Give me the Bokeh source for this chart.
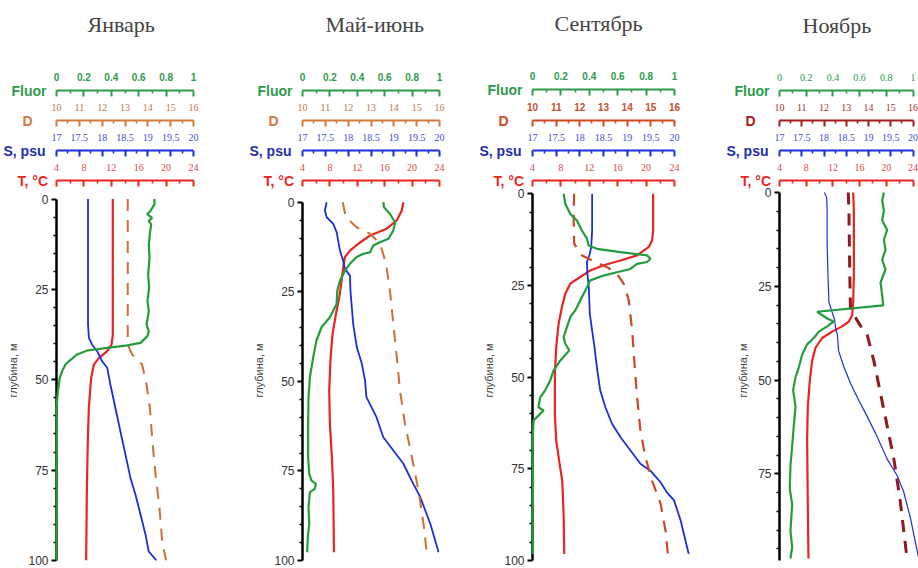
from bokeh.plotting import figure
from bokeh.models import Range1d, LinearAxis, FixedTicker, CustomJSTickFormatter, Title
from bokeh.layouts import row
from bokeh.embed import file_html
from bokeh.resources import INLINE

# ---------------- labels / ticks ----------------
titles = ["Январь", "Май-июнь", "Сентябрь", "Ноябрь"]
var_names = ["Fluor", "D", "S, psu", "T, °C"]
fluor_ticks = [0, 0.2, 0.4, 0.6, 0.8, 1]
fluor_minor = [0.1, 0.3, 0.5, 0.7, 0.9]
d_ticks = [10, 11, 12, 13, 14, 15, 16]
d_minor = [10.5, 11.5, 12.5, 13.5, 14.5, 15.5]
s_ticks = [17, 17.5, 18, 18.5, 19, 19.5, 20]
s_minor = [17.25, 17.75, 18.25, 18.75, 19.25, 19.75]
t_ticks = [4, 8, 12, 16, 20, 24]
t_minor = [6, 10, 14, 18, 22]
depth_ticks = [0, 25, 50, 75, 100]
depth_minor = [5, 10, 15, 20, 30, 35, 40, 45, 55, 60, 65, 70, 80, 85, 90, 95]

# ---------------- data: January ----------------
jan_f_depth = [0, 1.5, 3.3, 4.2, 5.2, 6.1, 7.0, 9.8, 12.6, 16.3, 20.9, 24.6, 28.3, 31.0, 34.7, 36.6, 38.0,
               39.8, 40.5, 41.2, 41.9, 43.0, 44.9, 45.8, 47.6, 49.5, 53.2, 57.8, 65, 75, 85, 95, 100]
jan_f = [0.715, 0.715, 0.686, 0.662, 0.698, 0.674, 0.691, 0.681, 0.674, 0.679, 0.669, 0.676, 0.664, 0.674,
         0.657, 0.674, 0.662, 0.613, 0.516, 0.37, 0.224, 0.151, 0.09, 0.066, 0.041, 0.024, 0.01, 0.0,
         0.003, 0.0, 0.002, 0.0, 0.0]
jan_s_depth = [0, 34.7, 38.4, 40.3, 42.1, 44.9, 46.7, 51.3, 57.8, 64.3, 70.7, 77.2, 81.8, 87.3, 92.9, 97.5, 100]
jan_s = [17.69, 17.69, 17.71, 17.78, 17.89, 18.0, 18.11, 18.18, 18.29, 18.40, 18.51, 18.62, 18.73,
         18.84, 18.95, 19.02, 19.19]
jan_t_depth = [0, 37.5, 40.3, 42.1, 44.0, 45.8, 49.5, 57.8, 67.0, 80.9, 100]
jan_t = [12.22, 12.22, 12.03, 11.40, 10.18, 9.45, 9.06, 8.72, 8.57, 8.43, 8.33]
jan_d_depth = [0, 40.3, 43.0, 45.8, 51.3, 57.8, 67.0, 76.3, 85.5, 94.7, 100]
jan_d = [13.12, 13.12, 13.31, 13.75, 13.94, 14.09, 14.20, 14.34, 14.51, 14.63, 14.80]

# ---------------- data: May-June ----------------
may_f_depth = [0, 1.4, 3.3, 5.6, 7.9, 10.2, 11.6, 12.1, 14.0, 14.4, 15.3, 17.2, 19.1, 21.9, 24.7, 28.4,
               32.1, 34.9, 38.6, 43.3, 48.8, 54.4, 61.9, 71.2, 75.8, 77.7, 78.6, 80.0, 80.9, 85.1, 89.8,
               93.5, 97.7]
may_f = [0.59, 0.595, 0.639, 0.676, 0.663, 0.627, 0.541, 0.517, 0.493, 0.444, 0.395, 0.346, 0.31, 0.273,
         0.254, 0.249, 0.20, 0.139, 0.102, 0.078, 0.054, 0.044, 0.041, 0.041, 0.049, 0.066, 0.098, 0.09,
         0.054, 0.044, 0.049, 0.039, 0.034]
may_s_depth = [0, 2.3, 4.2, 6.0, 8.4, 10.7, 13.5, 16.3, 18.6, 20.5, 24.7, 34.0, 40.5, 45.1, 49.8, 54.4,
               60.0, 65.6, 69.3, 73.0, 77.7, 82.3, 89.8, 97.7]
may_s = [17.53, 17.49, 17.53, 17.67, 17.75, 17.78, 17.82, 17.89, 17.93, 18.04, 18.05, 18.11, 18.19,
         18.30, 18.37, 18.40, 18.62, 18.77, 18.99, 19.21, 19.39, 19.58, 19.80, 19.98]
may_t_depth = [0, 2.3, 5.1, 7.4, 9.3, 11.6, 13.5, 15.3, 18.1, 21.9, 26.5, 31.2, 36.7, 43.3, 52.6, 61.9,
               71.2, 80.5, 97.7]
may_t = [18.73, 18.49, 17.76, 16.29, 13.85, 12.15, 10.93, 10.20, 9.95, 9.71, 9.37, 8.88, 8.39, 8.10,
         7.90, 8.0, 8.29, 8.49, 8.59]
may_d_depth = [0, 4.2, 7.0, 8.8, 11.6, 17.2, 24.7, 34.0, 43.3, 52.6, 61.9, 71.2, 80.5, 89.8, 97.7]
may_d = [11.76, 11.90, 12.37, 12.96, 13.40, 13.66, 13.83, 13.98, 14.13, 14.27, 14.49, 14.79, 15.08,
         15.30, 15.44]

# ---------------- data: September ----------------
sep_f_depth = [0, 2.7, 5.5, 7.3, 10, 12.3, 14.1, 15.0, 15.9, 16.8, 17.7, 18.6, 19.1, 20.5, 21.4, 22.3,
               23.6, 26.4, 29.1, 31.8, 33.6, 36.4, 39.1, 40.9, 42.7, 45.5, 48.2, 50.9, 53.6, 55.5, 58.2,
               59.1, 60.9, 61.8, 69.1, 78.2, 88, 98.2]
sep_f = [0.219, 0.231, 0.266, 0.313, 0.348, 0.384, 0.395, 0.454, 0.619, 0.807, 0.831, 0.807, 0.736,
         0.689, 0.595, 0.501, 0.407, 0.372, 0.336, 0.301, 0.266, 0.242, 0.219, 0.231, 0.259, 0.195,
         0.148, 0.125, 0.089, 0.054, 0.042, 0.078, 0.031, 0.007, 0.0, 0.004, 0.0, 0.003]
sep_s_depth = [0, 10, 14.5, 16.4, 18.6, 21.8, 25.5, 32.7, 37.3, 41.8, 47.3, 53.6, 58.2, 62.7, 66.4,
               70.0, 73.6, 75.5, 78.6, 81.4, 83.6, 89.1, 94.5, 98.2]
sep_s = [18.26, 18.26, 18.24, 18.21, 18.15, 18.16, 18.19, 18.21, 18.26, 18.31, 18.36, 18.43, 18.54,
         18.68, 18.86, 19.07, 19.28, 19.49, 19.70, 19.84, 19.99, 20.13, 20.23, 20.30]
sep_t_depth = [0, 10, 12.7, 14.5, 16.8, 18.2, 19.5, 20.9, 22.7, 24.5, 27.3, 30.9, 35.5, 41.8, 49.1,
               60.0, 67.3, 73.6, 78.2, 87.3, 98.2]
sep_t = [20.99, 20.99, 20.85, 20.38, 18.73, 16.38, 14.02, 12.14, 10.73, 9.32, 8.61, 8.14, 7.67, 7.34,
         7.15, 7.15, 7.34, 7.81, 8.19, 8.38, 8.47]
sep_d_depth = [0, 7.3, 13.6, 16.8, 18.6, 20.0, 21.8, 24.5, 29.1, 37.3, 46.4, 55.5, 64.5, 71.8, 78.2,
               84.5, 91.8, 98.2]
sep_d = [11.76, 11.74, 11.76, 12.09, 12.65, 13.15, 13.57, 13.85, 14.07, 14.21, 14.31, 14.42, 14.56,
         14.77, 15.05, 15.41, 15.62, 15.72]

# ---------------- data: November ----------------
nov_f_depth = [0, 2.2, 4.8, 7.4, 10.0, 12.6, 15.3, 17.9, 20.5, 24.0, 27.5, 30.1, 31.8, 33.6, 34.4, 35.7,
               37.1, 38.8, 40.5, 43.2, 46.6, 49.3, 52.7, 57.1, 62.3, 67.6, 72.8, 78.9, 83.3, 90.2, 94.6,
               97.6]
nov_f = [0.782, 0.769, 0.782, 0.769, 0.806, 0.782, 0.794, 0.769, 0.794, 0.757, 0.769, 0.777, 0.282,
         0.357, 0.407, 0.357, 0.295, 0.257, 0.207, 0.170, 0.145, 0.120, 0.102, 0.12, 0.107, 0.095,
         0.082, 0.077, 0.095, 0.082, 0.095, 0.082]
nov_s_depth = [0, 1.3, 4.8, 13.5, 22.2, 29.2, 31.8, 34.0, 36.2, 37.9, 42.3, 46.6, 51.0, 55.4, 59.7,
               65.0, 71.1, 75.4, 79.8, 86.7, 97.6]
nov_s = [18.01, 18.06, 18.07, 18.07, 18.09, 18.11, 18.18, 18.24, 18.26, 18.30, 18.33, 18.45, 18.60,
         18.78, 18.97, 19.19, 19.42, 19.64, 19.79, 19.94, 20.13]
nov_t_depth = [0, 4.8, 22.2, 29.2, 32.7, 34.4, 35.7, 37.1, 38.8, 41.4, 44.9, 50.1, 57.1, 65.8, 83.3, 97.6]
nov_t = [15.04, 15.14, 15.14, 15.04, 14.89, 14.39, 13.39, 11.89, 10.39, 9.39, 8.89, 8.54, 8.24, 8.14,
         8.24, 8.34]
nov_d_depth = [0, 4.8, 22.2, 31.0, 35.3, 37.9, 44.9, 53.6, 62.3, 71.1, 81.5, 92.0, 98.1]
nov_d = [13.09, 13.12, 13.16, 13.19, 13.61, 13.94, 14.24, 14.54, 14.84, 15.14, 15.41, 15.62, 15.74]

data = [
    dict(f=(jan_f, jan_f_depth), s=(jan_s, jan_s_depth), t=(jan_t, jan_t_depth), d=(jan_d, jan_d_depth)),
    dict(f=(may_f, may_f_depth), s=(may_s, may_s_depth), t=(may_t, may_t_depth), d=(may_d, may_d_depth)),
    dict(f=(sep_f, sep_f_depth), s=(sep_s, sep_s_depth), t=(sep_t, sep_t_depth), d=(sep_d, sep_d_depth)),
    dict(f=(nov_f, nov_f_depth), s=(nov_s, nov_s_depth), t=(nov_t, nov_t_depth), d=(nov_d, nov_d_depth)),
]

# ---------------- layout / style per panel ----------------
H = 568
TOP = 180
BOTTOM = 8
layout = [
    dict(width=227, left=56, right=34, axis_len=137, gap=18.5, ppm=None, title_off=31,
         d_col="#d27a3f", d_lab="#c0774e", d_line="#cd6f36",
         d_w=2, f_font="Liberation Sans", d_font="Liberation Serif", b_w=1.8),
    dict(width=230, left=75, right=18, axis_len=137, gap=21.7, ppm=None, title_off=23,
         d_col="#d27a3f", d_lab="#c0774e", d_line="#cd6f36",
         d_w=2, f_font="Liberation Sans", d_font="Liberation Serif", b_w=1.8),
    dict(width=247, left=75, right=12, axis_len=142, gap=13.3, ppm=None, title_off=22,
         d_col="#d24a22", d_lab="#c8502e", d_line="#c9482a",
         d_w=2.2, f_font="Liberation Sans", d_font="Liberation Sans", b_w=1.8),
    dict(width=214, left=75, right=0, axis_len=133.5, gap=12, ppm=3.75, title_off=23,
         d_col="#a31d1d", d_lab="#a83232", d_line="#8e1b1f",
         d_w=3, f_font="Liberation Serif", d_font="Liberation Serif", b_w=1.2),
]

GREEN = "#229c3c"
RED = "#e8251f"
BLUE = "#1c2fd6"

fmt = CustomJSTickFormatter(code="return String(Math.round(tick*100)/100);")

figs = []
for i, cfg in enumerate(layout):
    frame_w = cfg["width"] - cfg["left"] - cfg["right"]
    frame_h = H - TOP - BOTTOM
    k = frame_w / cfg["axis_len"]
    ppm = cfg["ppm"] or (frame_h - cfg["gap"]) / 100.0
    depth_end = (frame_h - cfg["gap"]) / ppm
    p = figure(width=cfg["width"], height=H, output_backend="svg", toolbar_location=None,
               x_range=Range1d(0, 1 * k), y_range=Range1d(depth_end, -cfg["gap"] / ppm),
               x_axis_location=None, y_axis_location="left",
               min_border_left=cfg["left"], min_border_right=cfg["right"],
               min_border_top=TOP, min_border_bottom=BOTTOM)
    p.outline_line_color = None
    p.grid.visible = False
    p.extra_x_ranges = {
        "d": Range1d(10, 10 + 6 * k),
        "s": Range1d(17, 17 + 3 * k),
        "t": Range1d(4, 4 + 20 * k),
    }
    p.title.text = titles[i]
    p.title.text_font = "Liberation Serif"
    p.title.text_font_size = "22px"
    p.title.text_font_style = "normal"
    p.title.align = "left"
    p.title.offset = cfg["title_off"]
    p.title.standoff = 9

    # depth axis
    ya = p.yaxis[0]
    ya.bounds = (0, 100)
    ya.ticker = FixedTicker(ticks=depth_ticks, minor_ticks=depth_minor)
    ya.axis_line_width = 2.5
    ya.axis_line_color = "black"
    ya.major_tick_line_width = 2
    ya.major_tick_line_color = "black"
    ya.minor_tick_line_width = 1.5
    ya.minor_tick_line_color = "black"
    ya.major_tick_out = 5
    ya.major_tick_in = 0
    ya.minor_tick_out = 3
    ya.minor_tick_in = 0
    ya.major_label_standoff = 3
    ya.major_label_text_font = "Liberation Sans"
    ya.major_label_text_font_size = "12px"
    ya.major_label_text_color = "#333333"
    ya.axis_label = "глубина, м"
    ya.axis_label_text_font = "Liberation Sans"
    ya.axis_label_text_font_size = "11px"
    ya.axis_label_text_font_style = "normal"
    ya.axis_label_text_color = "#444444"
    ya.axis_label_standoff = 6

    name_cols = ["#2e9a4b", cfg["d_col"], "#1f2bb0", RED]
    name_left = [-40, -29, -48, -34]

    # top axes (closest to the frame first), each with its name at the left
    axes_spec = [
        ("t", t_ticks, t_minor, (4, 24), RED, "#d44a4a", "Liberation Serif", "normal", 3),
        ("s", s_ticks, s_minor, (17, 20), BLUE, "#4150c8", "Liberation Serif", "normal", 2),
        ("d", d_ticks, d_minor, (10, 16), cfg["d_col"], cfg["d_lab"], cfg["d_font"],
         "bold" if cfg["d_font"] == "Liberation Sans" else "normal", 1),
        ("default", fluor_ticks, fluor_minor, (0, 1), "#2e9a4b", "#2e9a4b", cfg["f_font"],
         "bold" if cfg["f_font"] == "Liberation Sans" else "normal", 0),
    ]
    for name, tk, mtk, bnd, col, lcol, font, style, vi in axes_spec:
        p.add_layout(Title(text=var_names[vi], align="left", vertical_align="middle",
                           offset=name_left[vi] - 5, standoff=-17.6,
                           text_font="Liberation Sans", text_font_style="bold",
                           text_font_size="14px", text_color=name_cols[vi]), "above")
        ax = LinearAxis(x_range_name=name, ticker=FixedTicker(ticks=tk, minor_ticks=mtk),
                        formatter=fmt, bounds=bnd)
        ax.axis_line_color = col
        ax.axis_line_width = 2.2
        ax.major_tick_line_color = col
        ax.major_tick_line_width = 2
        ax.minor_tick_line_color = col
        ax.minor_tick_line_width = 1.6
        ax.major_tick_in = 6
        ax.major_tick_out = 0
        ax.minor_tick_in = 3
        ax.minor_tick_out = 0
        ax.major_label_standoff = 10
        ax.major_label_text_font = font
        ax.major_label_text_font_style = style
        ax.major_label_text_font_size = "10px"
        ax.major_label_text_color = lcol
        ax.axis_label = " "
        ax.axis_label_text_font_size = "16px" if vi == 0 else "6px"
        ax.axis_label_standoff = 8 if vi == 0 else 1
        p.add_layout(ax, "above")

    dd = data[i]
    p.line(dd["f"][0], dd["f"][1], color=GREEN, line_width=2.2, level="overlay")
    p.line(dd["t"][0], dd["t"][1], color=RED, line_width=2.2, x_range_name="t")
    p.line(dd["s"][0], dd["s"][1], color=BLUE, line_width=cfg["b_w"], x_range_name="s")
    p.line(dd["d"][0], dd["d"][1], color=cfg["d_line"], line_width=cfg["d_w"], line_dash="12 9",
           x_range_name="d")
    figs.append(p)

layout_row = row(*figs, spacing=0)
open("out.html", "w").write(file_html(layout_row, INLINE))
